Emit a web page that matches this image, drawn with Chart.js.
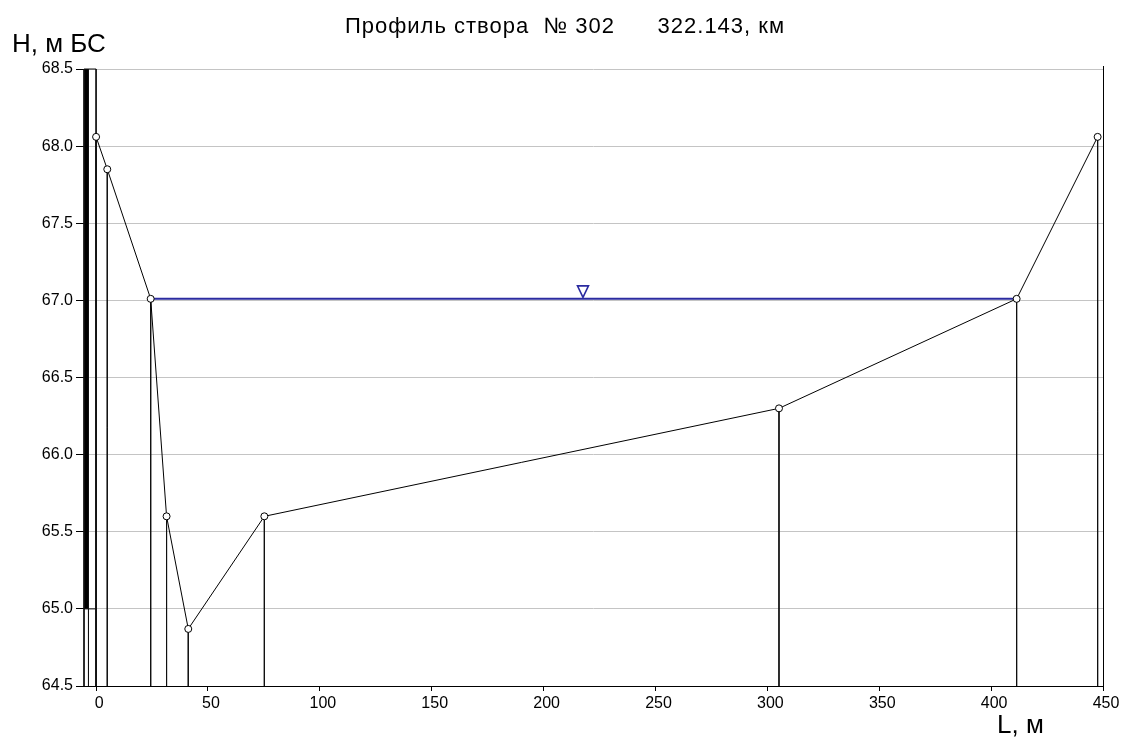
<!DOCTYPE html>
<html>
<head>
<meta charset="utf-8">
<script src="https://cdn.jsdelivr.net/npm/chart.js@4/dist/chart.umd.min.js"></script>
<style>
  html, body { margin: 0; padding: 0; background: #fff; }
  #wrap { width: 1125px; height: 737px; position: relative; }
</style>
</head>
<body>
<div id="wrap"><canvas id="c" width="1125" height="737"></canvas></div>
<script>
// Cross-section survey points: distance along the section (m) and elevation (m, Baltic system)
const distances = [0, 5, 24.4, 31.5, 41.2, 75.2, 305.2, 411.4, 447.6];
const elevations = [68.06, 67.85, 67.01, 65.60, 64.87, 65.60, 66.30, 67.01, 68.06];

// Water surface and where its marker sits
const waterLevel = 67.01;
const waterFrom = 24.4;
const waterTo = 411.4;
const waterMarkX = 217.6;

// Bank post at the left end of the section
const postEdges = [-5.4, -3.4, 0];
const postTop = 68.5;
const postSolidBottom = 65.0;

// Axis ranges and tick labels
const xMin = -5.4, xMax = 450;
const yMin = 64.5, yMax = 68.5;
const xTicks = [0, 50, 100, 150, 200, 250, 300, 350, 400, 450];
const yTicks = [64.5, 65.0, 65.5, 66.0, 66.5, 67.0, 67.5, 68.0, 68.5];

const titleText = 'Профиль створа  № 302      322.143, км';
const yTitle = 'Н, м БС';
const xTitle = 'L, м';

const FONT = "'Liberation Sans', Arial, sans-serif";

// Vertical drop lines from every survey point to the bottom of the plot,
// plus the outline of the bank post; nulls split the separate strokes.
const dropLines = [];
distances.forEach((d, i) => {
  dropLines.push({ x: d, y: elevations[i] }, { x: d, y: yMin }, { x: d, y: null });
});
postEdges.forEach(d => {
  dropLines.push({ x: d, y: postTop }, { x: d, y: yMin }, { x: d, y: null });
});
dropLines.push({ x: postEdges[0], y: postTop }, { x: postEdges[2], y: postTop }, { x: 0, y: null });
dropLines.push({ x: postEdges[0], y: postSolidBottom }, { x: postEdges[2], y: postSolidBottom });

const profile = distances.map((d, i) => ({ x: d, y: elevations[i] }));
const water = [{ x: waterFrom, y: waterLevel }, { x: waterTo, y: waterLevel }];

const decor = {
  id: 'decor',
  beforeDatasetsDraw(chart) {
    const { ctx, scales: { x, y } } = chart;
    // solid part of the bank post
    const x0 = x.getPixelForValue(postEdges[0]);
    const x1 = x.getPixelForValue(postEdges[1]);
    const yt = y.getPixelForValue(postTop);
    const yb = y.getPixelForValue(postSolidBottom);
    ctx.save();
    ctx.fillStyle = '#000';
    ctx.fillRect(x0, yt, x1 - x0, yb - yt);
    // right frame edge
    ctx.strokeStyle = '#000';
    ctx.lineWidth = 1;
    ctx.beginPath();
    ctx.moveTo(Math.round(x.right) + 0.5, y.top - 3);
    ctx.lineTo(Math.round(x.right) + 0.5, y.bottom);
    ctx.stroke();
    ctx.restore();
  },
  afterDraw(chart) {
    const { ctx, scales: { x, y } } = chart;
    ctx.save();
    // water level marker
    const mx = x.getPixelForValue(waterMarkX);
    const my = y.getPixelForValue(waterLevel);
    ctx.strokeStyle = '#2b2ba0';
    ctx.lineWidth = 1.6;
    ctx.beginPath();
    ctx.moveTo(mx - 5.5, my - 13);
    ctx.lineTo(mx + 5.5, my - 13);
    ctx.lineTo(mx, my - 1.5);
    ctx.closePath();
    ctx.stroke();
    // texts
    ctx.fillStyle = '#000';
    ctx.textBaseline = 'alphabetic';
    ctx.font = '22px ' + FONT;
    if ('letterSpacing' in ctx) ctx.letterSpacing = '1px';
    ctx.textAlign = 'center';
    ctx.fillText(titleText, 565, 33);
    if ('letterSpacing' in ctx) ctx.letterSpacing = '0px';
    ctx.textAlign = 'left';
    ctx.font = '26px ' + FONT;
    ctx.fillText(yTitle, 12, 52);
    ctx.fillText(xTitle, 997, 733);
    ctx.restore();
  }
};

new Chart(document.getElementById('c'), {
  type: 'line',
  data: {
    datasets: [
      {
        data: dropLines,
        borderColor: '#111',
        borderWidth: 1,
        pointRadius: 0,
        spanGaps: false,
        clip: false,
        order: 3
      },
      {
        data: water,
        borderColor: '#2b2ba0',
        borderWidth: 2,
        pointRadius: 0,
        clip: false,
        order: 2
      },
      {
        data: profile,
        borderColor: '#000',
        borderWidth: 1,
        pointRadius: 3.5,
        pointBackgroundColor: '#fff',
        pointBorderColor: '#000',
        pointBorderWidth: 1,
        clip: false,
        order: 1
      }
    ]
  },
  options: {
    responsive: false,
    animation: false,
    events: [],
    parsing: true,
    layout: { padding: { top: 69, right: 22, left: 0, bottom: 0 } },
    plugins: {
      legend: { display: false },
      tooltip: { enabled: false },
      title: { display: false }
    },
    scales: {
      x: {
        type: 'linear',
        min: xMin,
        max: xMax,
        afterFit(s) { s.height = 51; },
        afterBuildTicks(s) { s.ticks = xTicks.map(v => ({ value: v })); },
        grid: {
          drawOnChartArea: false,
          drawTicks: true,
          tickLength: 5,
          tickColor: '#000'
        },
        border: { display: true, color: '#000', width: 1 },
        ticks: {
          autoSkip: false,
          maxRotation: 0,
          padding: 3,
          labelOffset: 3,
          color: '#000',
          font: { family: FONT, size: 16 },
          callback: v => String(v)
        }
      },
      y: {
        type: 'linear',
        min: yMin,
        max: yMax,
        afterFit(s) { s.width = 84; },
        afterBuildTicks(s) { s.ticks = yTicks.map(v => ({ value: v })); },
        grid: {
          color: '#c4c4c4',
          lineWidth: 1,
          drawTicks: true,
          tickLength: 8,
          tickColor: '#000'
        },
        border: { display: false },
        ticks: {
          padding: 3,
          color: '#000',
          font: { family: FONT, size: 16 },
          callback: v => Number(v).toFixed(1)
        }
      }
    }
  },
  plugins: [decor]
});
</script>
</body>
</html>
